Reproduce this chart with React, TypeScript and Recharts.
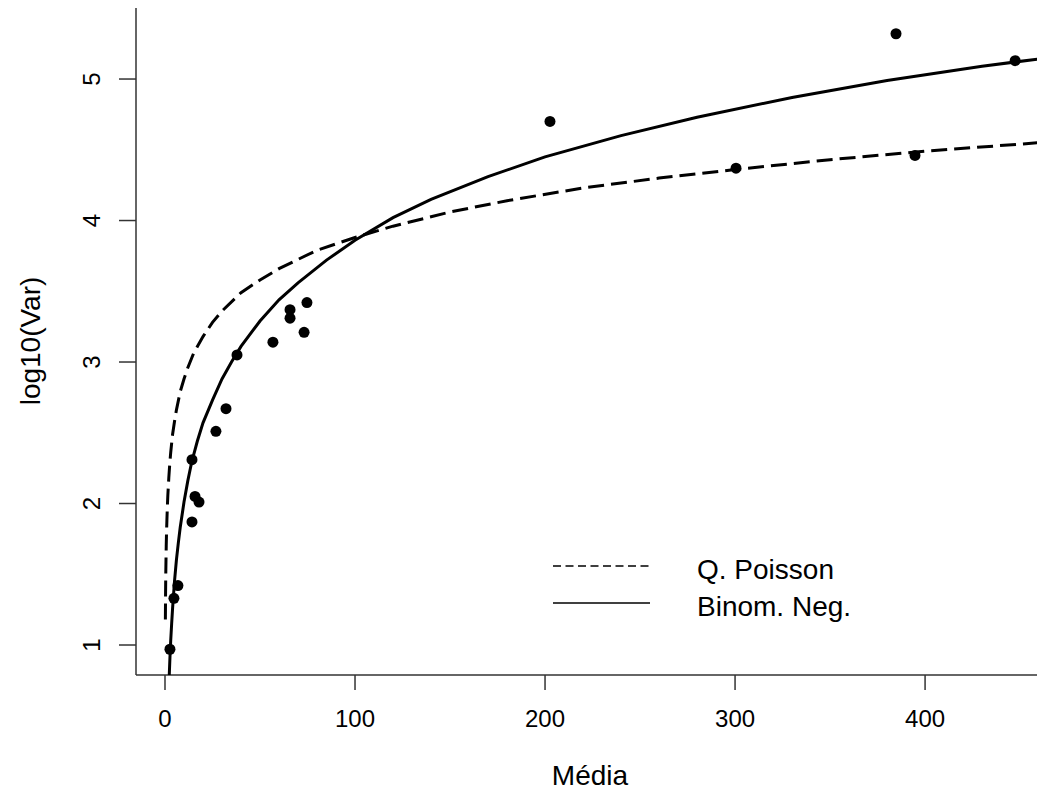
import { ScatterChart, Scatter, XAxis, YAxis } from 'recharts';

// observed mean / log10(variance) pairs
const mediaObs = [2.6, 4.7, 6.8, 14.2, 14.2, 15.8, 17.9, 26.8, 32.1, 37.9, 56.8, 65.8, 65.8, 73.2, 74.7, 202.6, 300.5, 384.7, 394.7, 447.4];
const logVarObs = [0.97, 1.33, 1.42, 2.31, 1.87, 2.05, 2.01, 2.51, 2.67, 3.05, 3.14, 3.37, 3.31, 3.21, 3.42, 4.7, 4.37, 5.32, 4.46, 5.13];

// fitted curves
const mediaPoisson = [0.2, 0.3, 0.4, 0.5, 0.65, 0.8, 1, 1.25, 1.5, 2, 2.5, 3, 4, 5, 6, 8, 10, 12, 15, 20, 25, 30, 40, 50, 60, 80, 100, 120, 150, 180, 220, 260, 300, 350, 400, 470];
const logVarPoisson = [1.18, 1.36, 1.49, 1.58, 1.7, 1.79, 1.88, 1.98, 2.06, 2.18, 2.28, 2.36, 2.49, 2.58, 2.66, 2.79, 2.88, 2.96, 3.06, 3.18, 3.28, 3.36, 3.49, 3.58, 3.66, 3.79, 3.88, 3.96, 4.06, 4.14, 4.23, 4.3, 4.36, 4.43, 4.49, 4.56];

const mediaBinNeg = [2.2, 2.6, 3, 3.5, 4, 5, 6, 7, 8, 10, 12, 14, 17, 20, 25, 30, 35, 40, 50, 60, 70, 85, 100, 120, 140, 170, 200, 240, 280, 330, 380, 430, 470];
const logVarBinNeg = [0.77, 0.91, 1.03, 1.15, 1.26, 1.45, 1.6, 1.72, 1.83, 2.01, 2.16, 2.29, 2.44, 2.57, 2.73, 2.88, 3.0, 3.11, 3.29, 3.44, 3.56, 3.72, 3.86, 4.02, 4.15, 4.31, 4.45, 4.6, 4.73, 4.87, 4.99, 5.09, 5.16];

const xTicks = [0, 100, 200, 300, 400];
const yTicks = [1, 2, 3, 4, 5];

const toPoints = (xs: number[], ys: number[]) => xs.map((x, i) => ({ x, y: ys[i] }));

const obs = toPoints(mediaObs, logVarObs);
const poisson = toPoints(mediaPoisson, logVarPoisson);
const binNeg = toPoints(mediaBinNeg, logVarBinNeg);

const FONT = '"Liberation Sans", Arial, sans-serif';
const AXIS = '#333';

const Dot = (p: any) => <circle cx={p.cx} cy={p.cy} r={5.5} fill="#000" />;
const NoDot = () => <g />;

const YTick = (p: any) => (
  <text
    x={92}
    y={p.y}
    transform={`rotate(-90 92 ${p.y})`}
    textAnchor="middle"
    dominantBaseline="central"
    fontSize={24}
    fontFamily={FONT}
    fill="#000"
  >
    {p.payload.value}
  </text>
);

function LegendBox() {
  return (
    <svg width={340} height={80} style={{ position: 'absolute', left: 553, top: 552, overflow: 'visible' }}>
      <line x1={0} x2={97} y1={14} y2={14} stroke="#000" strokeWidth={1.6} strokeDasharray="8 4.5" />
      <line x1={0} x2={97} y1={51} y2={51} stroke="#000" strokeWidth={1.6} />
      <text x={144} y={27} fontSize={28} fontFamily={FONT} fill="#000">Q. Poisson</text>
      <text x={144} y={64} fontSize={28} fontFamily={FONT} fill="#000">Binom. Neg.</text>
    </svg>
  );
}

export default function App() {
  return (
    <div style={{ position: 'absolute', left: 0, top: 0, width: 1037, height: 792, overflow: 'hidden', background: '#fff' }}>
      <ScatterChart width={1037} height={792} margin={{ top: 8, right: 0, bottom: 0, left: 0 }}>
        <XAxis
          xAxisId="top"
          orientation="top"
          type="number"
          domain={[-15.26, 458.9]}
          height={0}
          tick={false}
          tickLine={false}
          axisLine={{ stroke: AXIS, strokeWidth: 1.5 }}
        />
        <XAxis
          type="number"
          dataKey="x"
          domain={[-15.26, 458.9]}
          allowDataOverflow
          ticks={xTicks}
          height={117}
          tickSize={15}
          tickMargin={20}
          axisLine={{ stroke: AXIS, strokeWidth: 1.5 }}
          tickLine={{ stroke: AXIS, strokeWidth: 1.5 }}
          tick={{ fontSize: 24, fontFamily: FONT, fill: '#000' }}
          label={{
            content: () => (
              <text x={590} y={785} textAnchor="middle" fontSize={28} fontFamily={FONT} fill="#000">
                Média
              </text>
            ),
          }}
        />
        <YAxis
          type="number"
          dataKey="y"
          domain={[0.788, 5.502]}
          allowDataOverflow
          ticks={yTicks}
          width={136}
          tickSize={17}
          axisLine={{ stroke: AXIS, strokeWidth: 1.5 }}
          tickLine={{ stroke: AXIS, strokeWidth: 1.5 }}
          tick={<YTick />}
          label={{
            content: () => (
              <text
                x={30}
                y={341}
                transform="rotate(-90 30 341)"
                textAnchor="middle"
                dominantBaseline="central"
                fontSize={28}
                fontFamily={FONT}
                fill="#000"
              >
                log10(Var)
              </text>
            ),
          }}
        />
        <Scatter
          name="Q. Poisson"
          data={poisson}
          line={{ stroke: '#000', strokeWidth: 3, strokeDasharray: '16 7' }}
          shape={<NoDot />}
          isAnimationActive={false}
        />
        <Scatter
          name="Binom. Neg."
          data={binNeg}
          line={{ stroke: '#000', strokeWidth: 3 }}
          shape={<NoDot />}
          isAnimationActive={false}
        />
        <Scatter name="obs" data={obs} shape={<Dot />} isAnimationActive={false} />
      </ScatterChart>
      <LegendBox />
    </div>
  );
}
